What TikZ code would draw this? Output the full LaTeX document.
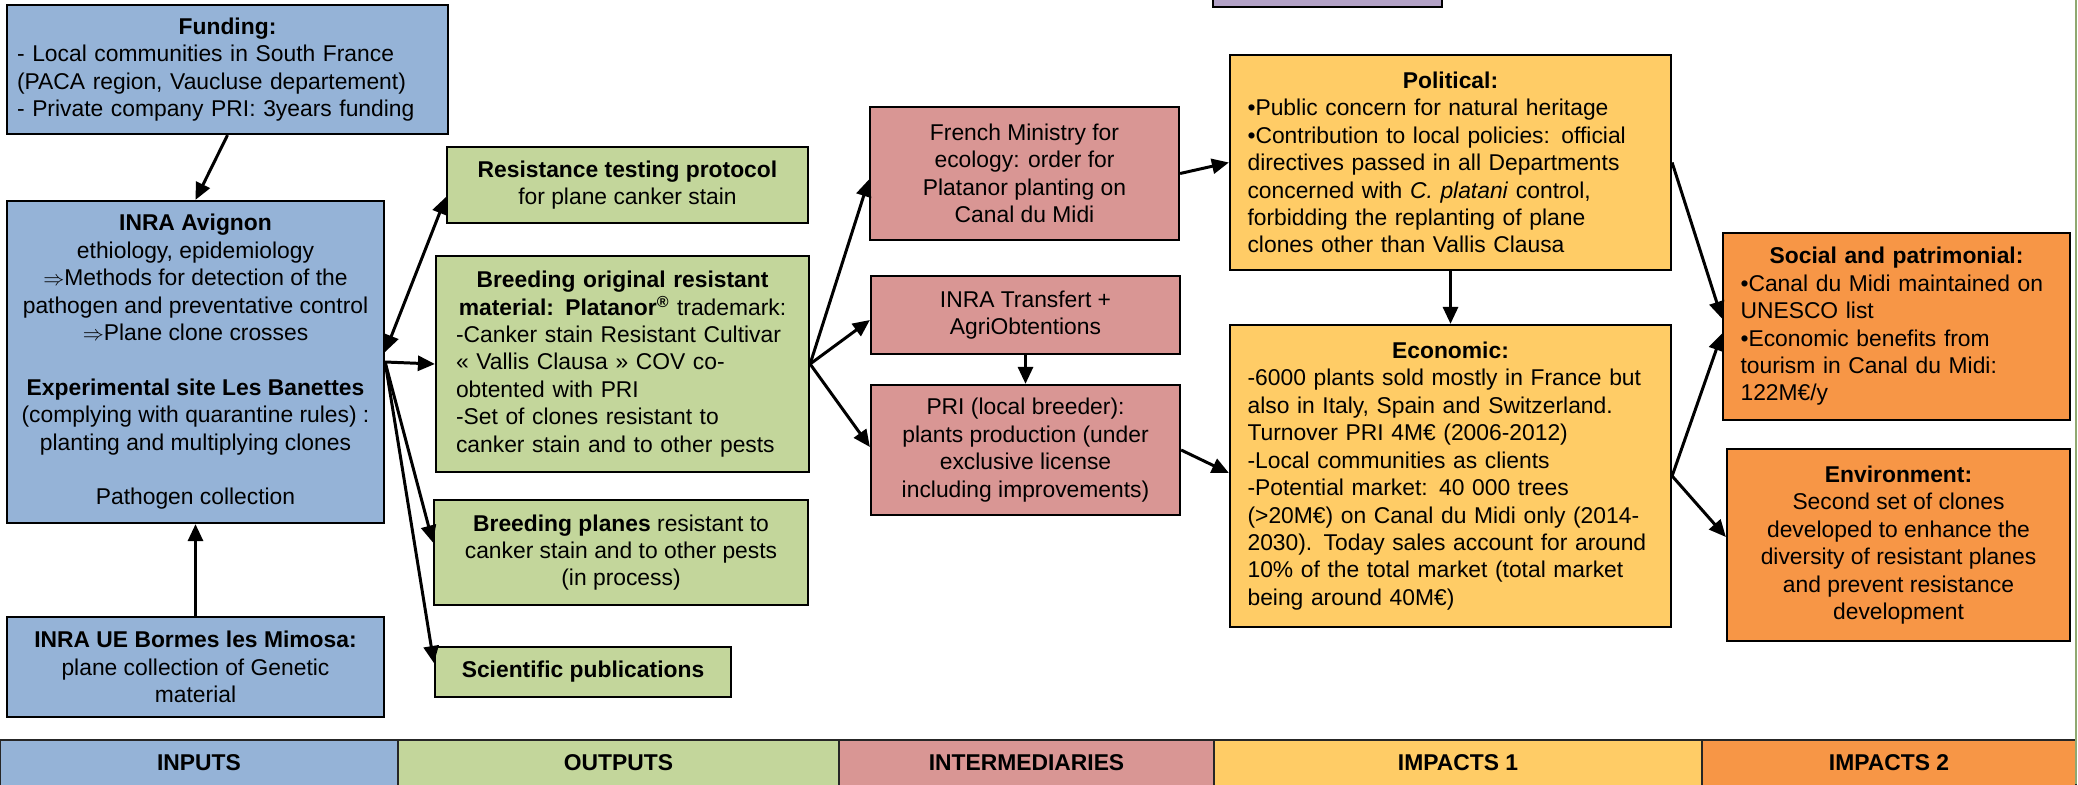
\documentclass[tikz,border=0pt]{standalone}
\usepackage{fontspec}
\setmainfont{Liberation Sans}
\usepackage{tikz}
\usetikzlibrary{arrows.meta}
\usetikzlibrary{calc}
\definecolor{inputblue}{HTML}{95B3D7}
\definecolor{outputgreen}{HTML}{C3D69B}
\definecolor{interred}{HTML}{D99694}
\definecolor{impactyellow}{HTML}{FFCC66}
\definecolor{impactorange}{HTML}{F79646}
\definecolor{toppurple}{HTML}{B3A2C7}
\definecolor{edgegreen}{HTML}{8FA870}
\newcommand{\boxtitle}[1]{{\centering\textbf{#1}\par}}

\begin{document}
\begin{tikzpicture}[x=0.02cm, y=-0.02cm,
    font=\fontsize{13}{15.6}\selectfont,
    >={Triangle[length=0.34cm,width=0.3cm]},
    box/.style={rectangle, draw=black, line width=1.3pt, align=center, inner sep=0.1cm},
    leftbox/.style={box, align=left, inner xsep=0.35cm},
    band/.style={rectangle, draw=black!85, line width=0.8pt, minimum height=0.92cm, font=\fontsize{13}{15.6}\selectfont\bfseries},
    arr/.style={->, line width=1.7pt}]

		\useasboundingbox (0,0) rectangle (2078,784);

		% Inputs
		\node (fund) at (227.5,69.5) [leftbox, inner xsep=0.2cm, fill=inputblue, minimum width=8.82cm, minimum height=2.58cm, text width=8.42cm] {\boxtitle{Funding:}
			- Local communities in South France\\
			(PACA region, Vaucluse departement)\\
			- Private company PRI: 3years funding};
		\node (avig) at (195.5,362) [box, fill=inputblue, minimum width=7.54cm, minimum height=6.44cm] {\textbf{INRA Avignon}\\
			ethiology, epidemiology\\
			$\Rightarrow$Methods for detection of the\\
			pathogen and preventative control\\
			$\Rightarrow$Plane clone crosses\\[\baselineskip]
			\textbf{Experimental site Les Banettes}\\
			(complying with quarantine rules) :\\
			planting and multiplying clones\\[\baselineskip]
			Pathogen collection};
		\node (borm) at (195.5,667) [box, fill=inputblue, minimum width=7.54cm, minimum height=2cm] {\textbf{INRA UE Bormes les Mimosa:}\\
			plane collection of Genetic\\
			material};

		% Outputs
		\node (rtp) at (627.5,185) [box, fill=outputgreen, minimum width=7.22cm, minimum height=1.52cm] {\textbf{Resistance testing protocol}\\
			for plane canker stain};
		\node (bom) at (622.5,364) [leftbox, inner xsep=0.4cm, fill=outputgreen, minimum width=7.46cm, minimum height=4.32cm, text width=6.66cm] {{\centering\textbf{Breeding original resistant}\\
			\textbf{material: Platanor\textsuperscript{®}} trademark:\par}
			-Canker stain Resistant Cultivar\\
			« Vallis Clausa » COV co-\\
			obtented with PRI\\
			-Set of clones resistant to\\
			canker stain and to other pests};
		\node (bpl) at (621,552.5) [box, fill=outputgreen, minimum width=7.48cm, minimum height=2.1cm] {\textbf{Breeding planes} resistant to\\
			canker stain and to other pests\\
			(in process)};
		\node (pub) at (583,672) [box, fill=outputgreen, minimum width=5.92cm, minimum height=1cm] {\textbf{Scientific publications}};

		% Intermediaries
		\node (mini) at (1024.5,173.5) [box, fill=interred, minimum width=6.18cm, minimum height=2.66cm] {French Ministry for\\
			ecology: order for\\
			Platanor planting on\\
			Canal du Midi};
		\node (trans) at (1025.5,315) [box, fill=interred, minimum width=6.18cm, minimum height=1.56cm] {INRA Transfert +\\
			AgriObtentions};
		\node (pri) at (1025.5,450) [box, fill=interred, minimum width=6.18cm, minimum height=2.6cm] {PRI (local breeder):\\
			plants production (under\\
			exclusive license\\
			including improvements)};

		% Impacts 1
		\node (topbox) at (1327.5,-8) [box, fill=toppurple, minimum width=4.58cm, minimum height=0.6cm] {};
		\node (pol) at (1450.5,162.5) [leftbox, fill=impactyellow, minimum width=8.82cm, minimum height=4.3cm, text width=8.12cm] {\boxtitle{Political:}
			•Public concern for natural heritage\\
			•Contribution to local policies: official\\
			directives passed in all Departments\\
			concerned with \textit{C. platani} control,\\
			forbidding the replanting of plane\\
			clones other than Vallis Clausa};
		\node (eco) at (1450.5,476) [leftbox, fill=impactyellow, minimum width=8.82cm, minimum height=6.04cm, text width=8.12cm] {\boxtitle{Economic:}
			-6000 plants sold mostly in France but\\
			also in Italy, Spain and Switzerland.\\
			Turnover PRI 4M€ (2006-2012)\\
			-Local communities as clients\\
			-Potential market: 40 000 trees\\
			(>20M€) on Canal du Midi only (2014-\\
			2030). Today sales account for around\\
			10\% of the total market (total market\\
			being around 40M€)};

		% Impacts 2
		\node (soc) at (1896.5,326.5) [leftbox, fill=impactorange, minimum width=6.94cm, minimum height=3.74cm, text width=6.24cm] {\boxtitle{Social and patrimonial:}
			•Canal du Midi maintained on\\
			UNESCO list\\
			•Economic benefits from\\
			tourism in Canal du Midi:\\
			122M€/y};
		\node (env) at (1898.5,545) [box, fill=impactorange, minimum width=6.86cm, minimum height=3.84cm] {\textbf{Environment:}\\
			Second set of clones\\
			developed to enhance the\\
			diversity of resistant planes\\
			and prevent resistance\\
			development};

		% Column bands
		\node (band_in) at (199,763) [band, fill=inputblue, minimum width=7.96cm] {INPUTS};
		\node (band_out) at (618.5,763) [band, fill=outputgreen, minimum width=8.82cm] {OUTPUTS};
		\node (band_mid) at (1026.5,763) [band, fill=interred, minimum width=7.5cm] {INTERMEDIARIES};
		\node (band_imp1) at (1458,763) [band, fill=impactyellow, minimum width=9.76cm] {IMPACTS 1};
		\node (band_imp2) at (1889,763) [band, fill=impactorange, minimum width=7.48cm] {IMPACTS 2};
		\draw[edgegreen, line width=0.8pt] (2076,0) -- (2076,784);

		% Connections
		\draw [arr] (fund.south) -- (avig.north);
		\draw [arr] (borm.north) -- (avig.south);
		\draw [arr, <->] ($(avig.east)+(0,-10)$) -- ($(rtp.west)+(0,12)$);
		\draw [arr] (avig.east) -- (bom.west);
		\draw [arr] (avig.east) -- ($(bpl.west)+(0,-10)$);
		\draw [arr] (avig.east) -- ($(pub.west)+(0,-9)$);

		\draw [arr] (bom.east) -- ($(mini.west)+(0,6)$);
		\draw [arr] (bom.east) -- ($(trans.west)+(0,5)$);
		\draw [arr] (bom.east) -- ($(pri.west)+(0,-3)$);
		\draw [arr] (trans.south) -- (pri.north);

		\draw [arr] (mini.east) -- (pol.west);
		\draw [arr] (pri.east) -- ($(eco.west)+(0,-3)$);
		\draw [arr] (pol.south) -- (eco.north);

		\draw [arr] (pol.east) -- ($(soc.west)+(0,-8)$);
		\draw [arr] (eco.east) -- ($(soc.west)+(0,7)$);
		\draw [arr] (eco.east) -- ($(env.west)+(0,-8)$);
    \end{tikzpicture}
\end{document}
